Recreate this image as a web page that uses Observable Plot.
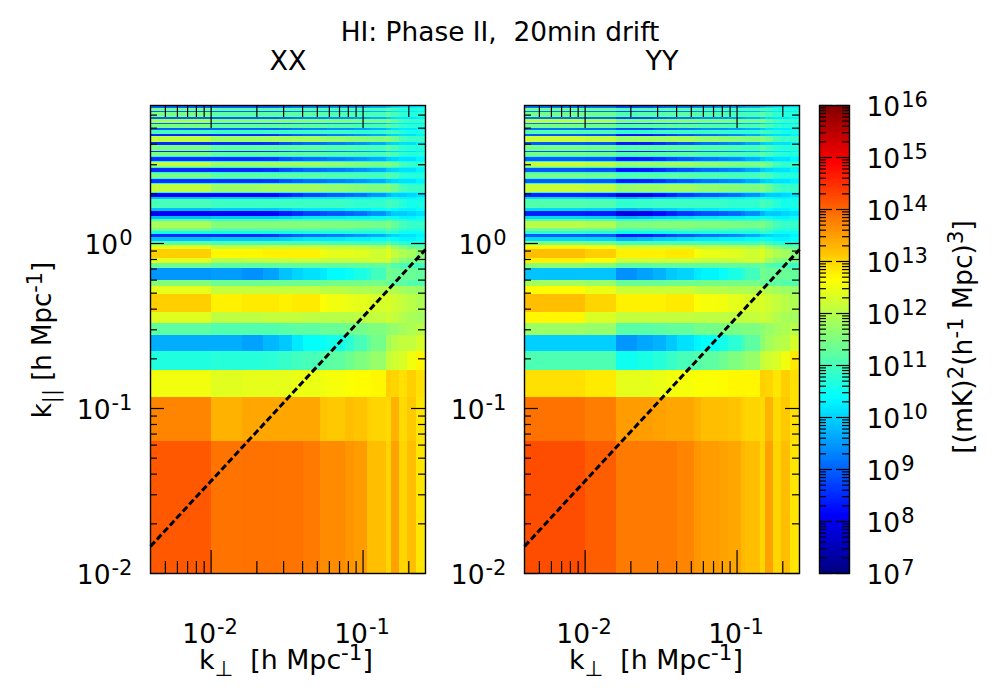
<!DOCTYPE html>
<html><head><meta charset="utf-8">
<script src="https://cdn.jsdelivr.net/npm/d3@7"></script>
<script src="https://cdn.jsdelivr.net/npm/@observablehq/plot@0.6"></script>
<style>
html,body{margin:0;padding:0;background:#fff;}
#page{position:relative;width:1000px;height:700px;overflow:hidden;font-family:"DejaVu Sans",sans-serif;color:#000;}
#page>div.plot{position:absolute;}
.lbl{position:absolute;white-space:pre;line-height:1;transform:translate(-50%,-50%);font-size:25px;}
.lbl.rot{transform:translate(-50%,-50%) rotate(-90deg);}
.sup{font-size:.8em;position:relative;top:-.42em;}
.sub{font-size:.8em;position:relative;top:.32em;}
svg{overflow:visible;}
</style></head><body><div id="page"></div>
<script>
// k-perp bin edges, h/Mpc
const kPerpEdges=[0.00399,0.0101,0.0161,0.0222,0.0283,0.0343,0.0403,0.0527,0.0583,0.0766,0.0882,0.1074,0.1136,0.1426,0.1538,0.1744,0.1968,0.2245,0.2576];
// k-parallel bin edges, h/Mpc
const kParaEdges=[0.01,0.0634,0.1166,0.1706,0.2225,0.277,0.3275,0.3833,0.4908,0.5457,0.599,0.7018,0.7595,0.8111,0.9197,0.9766,1.028,1.081,1.139,1.187,1.233,1.352,1.404,1.45,1.554,1.636,1.779,1.838,1.889,1.998,2.046,2.278,2.32,2.43,2.488,2.642,2.705,2.832,2.872,3.11,3.154,3.303,3.368,3.541,3.626,3.943,4.111,4.451,4.552,4.861,4.977,5.235,5.359,5.643,5.802,6.187,6.31,6.607,6.729,6.861];
// which profile each k-parallel bin uses, from low k to high k
const rowKinds=["a","b","c","d","e","f","g","h","i","j","k","l","m","n","o","p",
"halo","deep","cyan","green","pale","mint","halo","strong","halo","mint","mint","halo","strong","cyan","lime","cyan","deep","cyan","green","cyan","deep","cyan","lime","cyan","deep","cyan","green","deep","green","deep","lime","deep","mint","thin","green","thin","pale","thin","green","thin","green","thin","green"];

// XX: log10 power in each k-perp bin
const xxA=[14.1,13.85,13.87,13.87,13.85,13.85,13.8,13.65,13.65,13.55,13.5,13.2,13.2,13.0,13.45,13.0,13.2,12.85];
const xxB=[13.7,13.3,13.4,13.4,13.4,13.4,13.4,13.15,13.1,13.2,13.15,13.05,13.0,12.95,13.3,12.95,13.1,12.85];
const xxC=[12.5,12.35,12.4,12.4,12.4,12.45,12.45,12.5,12.55,12.6,12.65,12.65,12.7,13.05,13.0,12.9,13.05,12.9];
const xxD=[10.65,10.7,10.7,10.75,10.85,10.95,11.0,11.1,11.2,11.35,11.5,11.6,11.7,12.1,12.2,12.3,12.5,12.7];
const xxE=[9.65,9.65,9.55,9.75,9.9,10.2,10.4,10.45,10.55,10.75,11.0,11.2,11.4,11.8,12.0,12.1,12.1,12.25];
const xxF=[11.2,11.1,11.1,11.1,11.15,11.2,11.2,11.3,11.3,11.4,11.4,11.5,11.5,11.6,11.7,11.8,11.9,12.0];
const xxG=[12.35,12.05,12.05,12.1,12.1,12.1,12.05,12.0,12.0,12.0,12.05,12.05,12.1,12.2,12.1,11.95,11.85,11.8];
const xxH=[13.05,12.75,12.8,12.8,12.75,12.8,12.8,12.6,12.5,12.45,12.4,12.35,12.25,12.3,12.2,12.1,12.0,11.9];
const xxI=[12.4,12.1,12.1,12.1,12.1,12.1,12.1,12.0,12.0,11.95,11.9,11.9,11.9,12.0,11.9,11.8,11.75,11.7];
const xxJ=[11.55,11.35,11.35,11.35,11.35,11.35,11.35,11.35,11.4,11.4,11.4,11.4,11.4,11.3,11.2,11.2,11.1,11.1];
const xxK=[9.45,9.5,9.4,9.55,9.85,10.0,10.1,10.2,10.35,10.45,10.6,10.7,10.95,11.4,11.3,11.3,11.3,11.25];
const xxL=[11.3,11.15,11.15,11.15,11.2,11.2,11.2,11.2,11.2,11.2,11.2,11.2,11.2,11.3,11.1,11.0,10.95,10.9];
const xxM=[12.4,12.0,12.05,12.1,12.1,12.15,12.15,12.1,12.1,12.1,12.15,12.15,12.2,12.2,11.8,11.6,11.5,11.4];
const xxN=[13.05,12.7,12.7,12.75,12.75,12.75,12.75,12.5,12.4,12.4,12.35,12.3,12.2,12.35,12.1,11.9,11.8,11.6];
const xxO=[12.4,12.1,12.1,12.15,12.15,12.15,12.15,12.1,12.05,12.05,12.0,12.0,11.9,12.1,11.7,11.5,11.3,11.2];
const xxP=[11.1,11.0,11.0,11.0,11.0,11.0,11.0,11.0,10.95,10.95,10.9,10.9,10.9,11.1,10.9,10.7,10.6,10.6];
const xxDeep=[8.5,8.5,8.5,8.55,8.8,8.95,9.05,9.1,9.2,9.3,9.4,9.5,9.6,9.9,10.0,10.1,10.1,10.3];
const xxThin=[9.0,9.0,9.0,9.0,9.1,9.2,9.3,9.3,9.4,9.4,9.5,9.6,9.7,9.9,10.1,10.2,10.2,10.3];
const xxStrong=[8.05,8.05,8.05,8.1,8.35,8.5,8.7,8.8,8.9,9.0,9.1,9.3,9.4,9.7,9.9,9.9,10.0,10.1];
const xxHalo=[9.8,9.9,9.9,9.9,10.0,10.1,10.2,10.2,10.2,10.3,10.3,10.3,10.4,10.5,10.4,10.3,10.3,10.4];
const xxCyan=[10.5,10.5,10.5,10.5,10.5,10.55,10.55,10.6,10.6,10.6,10.6,10.6,10.6,10.8,10.7,10.45,10.4,10.45];
const xxMint=[11.0,10.9,10.9,10.9,10.9,10.9,10.9,10.9,10.9,10.85,10.8,10.8,10.8,11.0,10.9,10.7,10.55,10.6];
const xxGreen=[11.45,11.2,11.2,11.2,11.2,11.2,11.2,11.15,11.1,11.1,11.05,11.0,11.0,11.2,11.0,10.8,10.7,10.7];
const xxLime=[12.05,11.75,11.75,11.8,11.8,11.8,11.8,11.7,11.65,11.6,11.55,11.5,11.5,11.55,11.35,11.0,10.85,10.85];
const xxPale=[11.85,11.55,11.55,11.55,11.55,11.55,11.55,11.5,11.5,11.5,11.45,11.45,11.4,11.5,11.25,11.0,10.85,10.85];

// YY: log10 power in each k-perp bin
const yyA=[14.2,14.05,13.8,13.8,13.8,13.8,13.7,13.55,13.5,13.45,13.4,13.25,13.2,13.0,13.45,13.0,13.2,12.85];
const yyB=[13.87,13.77,13.5,13.5,13.45,13.4,13.4,13.3,13.2,13.2,13.15,13.05,13.0,12.95,13.3,12.95,13.1,12.9];
const yyC=[12.9,12.8,12.4,12.4,12.45,12.5,12.55,12.6,12.6,12.65,12.7,12.7,12.7,13.05,13.0,12.85,13.05,12.9];
const yyD=[11.05,11.05,10.5,10.6,10.7,10.85,11.0,11.1,11.2,11.35,11.5,11.6,11.7,12.1,12.2,12.3,12.5,12.8];
const yyE=[9.95,9.95,9.45,9.6,9.7,9.9,10.1,10.3,10.4,10.55,10.75,10.95,11.2,11.6,11.8,11.95,12.0,12.25];
const yyF=[11.75,11.7,11.15,11.15,11.2,11.25,11.25,11.4,11.4,11.45,11.45,11.5,11.5,11.6,11.7,11.8,11.9,12.0];
const yyG=[12.7,12.3,12.1,12.1,12.1,12.1,12.1,12.05,12.05,12.05,12.05,12.05,12.1,12.2,12.1,11.95,11.85,11.8];
const yyH=[13.2,13.0,12.75,12.75,12.75,12.8,12.8,12.6,12.55,12.5,12.4,12.35,12.25,12.3,12.2,12.1,12.0,11.9];
const yyI=[12.65,12.45,12.15,12.15,12.15,12.15,12.15,12.05,12.0,11.95,11.9,11.9,11.9,12.0,11.9,11.8,11.75,11.7];
const yyJ=[11.8,11.7,11.3,11.3,11.3,11.35,11.35,11.35,11.4,11.4,11.4,11.4,11.4,11.3,11.2,11.2,11.1,11.1];
const yyK=[9.85,9.85,9.4,9.55,9.7,9.9,10.0,10.2,10.3,10.45,10.6,10.7,10.95,11.4,11.3,11.3,11.3,11.25];
const yyL=[11.6,11.5,11.15,11.15,11.2,11.2,11.2,11.2,11.2,11.2,11.2,11.2,11.2,11.3,11.1,11.0,10.95,10.9];
const yyM=[12.75,12.6,12.2,12.2,12.2,12.2,12.2,12.15,12.1,12.1,12.15,12.15,12.2,12.2,11.8,11.6,11.5,11.4];
const yyN=[13.2,13.05,12.75,12.75,12.75,12.8,12.8,12.55,12.45,12.4,12.35,12.3,12.2,12.35,12.1,11.9,11.8,11.6];
const yyO=[12.7,12.55,12.2,12.2,12.2,12.2,12.2,12.1,12.05,12.05,12.0,12.0,11.9,12.1,11.7,11.5,11.3,11.2];
const yyP=[11.4,11.3,11.0,11.0,11.0,11.0,11.0,11.0,10.95,10.95,10.9,10.9,10.9,11.1,10.9,10.7,10.6,10.6];
const yyDeep=[8.9,8.85,8.3,8.35,8.5,8.7,8.85,9.0,9.1,9.2,9.3,9.4,9.6,9.9,10.0,10.1,10.1,10.3];
const yyThin=[9.15,9.1,8.8,8.85,9.0,9.1,9.2,9.3,9.4,9.4,9.5,9.6,9.7,9.9,10.1,10.2,10.2,10.3];
const yyStrong=[8.4,8.35,7.85,7.95,8.2,8.4,8.6,8.75,8.85,8.95,9.05,9.2,9.35,9.7,9.9,9.9,10.0,10.1];
const yyHalo=[10.05,10.0,9.7,9.8,9.95,10.0,10.1,10.2,10.2,10.3,10.3,10.3,10.4,10.5,10.4,10.3,10.3,10.4];
const yyCyan=[10.7,10.65,10.4,10.45,10.45,10.5,10.55,10.6,10.6,10.6,10.6,10.6,10.6,10.8,10.7,10.45,10.4,10.45];
const yyMint=[11.1,11.05,10.8,10.85,10.9,10.9,10.9,10.9,10.9,10.85,10.8,10.8,10.8,11.0,10.9,10.7,10.55,10.6];
const yyGreen=[11.4,11.35,11.1,11.15,11.15,11.2,11.2,11.15,11.1,11.1,11.05,11.0,11.0,11.2,11.0,10.8,10.7,10.7];
const yyLime=[12.15,12.05,11.7,11.75,11.75,11.8,11.8,11.7,11.65,11.6,11.55,11.5,11.5,11.55,11.35,11.0,10.85,10.85];
const yyPale=[12.0,11.9,11.5,11.5,11.55,11.55,11.55,11.5,11.5,11.5,11.45,11.45,11.4,11.5,11.25,11.0,10.85,10.85];

// foreground wedge line
const wedgeKPerp=[0.00399,0.2576];
const wedgeKPara=[0.0146,0.92];
// axes
const xMajor=[0.01,0.1];
const xMinor=[0.005,0.006,0.007,0.008,0.009,0.02,0.03,0.04,0.05,0.06,0.07,0.08,0.09,0.2];
const xTickText=["10^-2","10^-1"];
const yMajor=[0.01,0.1,1];
const yMinor=[0.02,0.03,0.04,0.05,0.06,0.07,0.08,0.09,0.2,0.3,0.4,0.5,0.6,0.7,0.8,0.9,2,3,4,5,6];
const yTickText=["10^-2","10^-1","10^0"];
const barExponents=[7,8,9,10,11,12,13,14,15,16];
const barMinorDigits=[2,3,4,5,6,7,8,9];

const xxTable={a:xxA,b:xxB,c:xxC,d:xxD,e:xxE,f:xxF,g:xxG,h:xxH,i:xxI,j:xxJ,k:xxK,l:xxL,m:xxM,n:xxN,o:xxO,p:xxP,deep:xxDeep,thin:xxThin,strong:xxStrong,halo:xxHalo,cyan:xxCyan,mint:xxMint,green:xxGreen,lime:xxLime,pale:xxPale};
const yyTable={a:yyA,b:yyB,c:yyC,d:yyD,e:yyE,f:yyF,g:yyG,h:yyH,i:yyI,j:yyJ,k:yyK,l:yyL,m:yyM,n:yyN,o:yyO,p:yyP,deep:yyDeep,thin:yyThin,strong:yyStrong,halo:yyHalo,cyan:yyCyan,mint:yyMint,green:yyGreen,lime:yyLime,pale:yyPale};

const clamp=v=>Math.max(0,Math.min(1,v));
const jet=t=>{const r=clamp(Math.min(4*t-1.5,-4*t+4.5)),g=clamp(Math.min(4*t-.5,-4*t+3.5)),b=clamp(Math.min(4*t+.5,-4*t+2.5));
  return `rgb(${Math.round(r*255)},${Math.round(g*255)},${Math.round(b*255)})`;};
const colorOpt={type:"log",domain:[1e7,1e16],interpolate:jet,clamp:true};
const font='"DejaVu Sans",sans-serif';
const page=document.getElementById("page");

function powerText(svg){
  svg.querySelectorAll("text").forEach(t=>{
    const s=t.textContent; if(!s.includes("^")) return;
    const [b,e]=s.split("^"); t.textContent="";
    const a=document.createElementNS("http://www.w3.org/2000/svg","tspan"); a.textContent=b; t.appendChild(a);
    const c=document.createElementNS("http://www.w3.org/2000/svg","tspan"); c.textContent=e;
    c.setAttribute("font-size","21"); c.setAttribute("dy","-9"); c.setAttribute("dx","1"); t.appendChild(c);
  });
}
function place(svg,left){
  const d=document.createElement("div"); d.className="plot"; d.style.left=left+"px"; d.style.top="0"; d.appendChild(svg); page.appendChild(d);
}
function panel(table,x0){
  const cells=[];
  rowKinds.forEach((kind,r)=>table[kind].forEach((v,c)=>cells.push({x1:kPerpEdges[c],x2:kPerpEdges[c+1],y1:kParaEdges[r],y2:kParaEdges[r+1],v:Math.pow(10,v)})));
  const mL=110,mT=105,W=275,H=468,mB=95;
  const wedge=wedgeKPerp.map((k,i)=>({x:k,y:wedgeKPara[i]}));
  const svg=Plot.plot({
    width:mL+W+5,height:mT+H+mB,marginLeft:mL,marginRight:5,marginTop:mT,marginBottom:mB,
    style:{fontFamily:font,background:"transparent",overflow:"visible"},
    x:{type:"log",domain:[0.00399,0.2576],axis:null},
    y:{type:"log",domain:[0.01,6.861],axis:null},
    color:colorOpt,
    marks:[
      Plot.rect(cells,{x1:"x1",x2:"x2",y1:"y1",y2:"y2",fill:"v",shapeRendering:"crispEdges"}),
      Plot.line(wedge,{x:"x",y:"y",stroke:"#000",strokeWidth:3,strokeDasharray:"6.5,3",strokeLinecap:"butt"}),
      Plot.tickX(xMinor,{x:d=>d,insetTop:H-12,stroke:"#000",strokeWidth:1.2}),
      Plot.tickX(xMinor,{x:d=>d,insetBottom:H-12,stroke:"#000",strokeWidth:1.2}),
      Plot.tickX(xMajor,{x:d=>d,insetTop:H-23,stroke:"#000",strokeWidth:1.2}),
      Plot.tickX(xMajor,{x:d=>d,insetBottom:H-23,stroke:"#000",strokeWidth:1.2}),
      Plot.tickY(yMinor,{y:d=>d,insetRight:W-7,stroke:"#000",strokeWidth:1.2}),
      Plot.tickY(yMinor,{y:d=>d,insetLeft:W-7,stroke:"#000",strokeWidth:1.2}),
      Plot.tickY(yMajor,{y:d=>d,insetRight:W-14,stroke:"#000",strokeWidth:1.2}),
      Plot.tickY(yMajor,{y:d=>d,insetLeft:W-14,stroke:"#000",strokeWidth:1.2}),
      Plot.frame({stroke:"#000",strokeWidth:1.4}),
      Plot.text(yMajor,{x:0.00399,y:d=>d,text:(d,i)=>yTickText[i],textAnchor:"end",dx:-18,dy:1.7,fontSize:26.5,fill:"#000"}),
      Plot.text(xMajor,{x:d=>d,y:0.01,text:(d,i)=>xTickText[i],textAnchor:"middle",dy:61,dx:-1,fontSize:26.5,fill:"#000"})
    ]
  });
  powerText(svg);
  place(svg,x0-mL);
}
function colorbar(){
  const levels=d3.range(0,360).map(i=>({a:Math.pow(10,7+i/40),b:Math.pow(10,7+(i+1)/40)}));
  const minors=barExponents.slice(0,-1).flatMap(e=>barMinorDigits.map(d=>d*Math.pow(10,e)));
  const majors=barExponents.map(e=>Math.pow(10,e));
  const W=30,H=468,mT=105,mB=20,mR=140;
  const svg=Plot.plot({
    width:W+mR+1,height:mT+H+mB,marginLeft:1,marginRight:mR,marginTop:mT,marginBottom:mB,
    style:{fontFamily:font,background:"transparent",overflow:"visible"},
    x:{domain:[0,1],axis:null},
    y:{type:"log",domain:[1e7,1e16],axis:null},
    color:colorOpt,
    marks:[
      Plot.rect(levels,{x1:0,x2:1,y1:"a",y2:"b",fill:"a",shapeRendering:"crispEdges"}),
      Plot.tickY(minors,{y:d=>d,insetRight:W-7,stroke:"#000",strokeWidth:1.2}),
      Plot.tickY(minors,{y:d=>d,insetLeft:W-7,stroke:"#000",strokeWidth:1.2}),
      Plot.tickY(majors,{y:d=>d,insetRight:W-13,stroke:"#000",strokeWidth:1.2}),
      Plot.tickY(majors,{y:d=>d,insetLeft:W-13,stroke:"#000",strokeWidth:1.2}),
      Plot.frame({stroke:"#000",strokeWidth:1.4}),
      Plot.text(barExponents,{x:1,y:e=>Math.pow(10,e),text:e=>"10^"+e,textAnchor:"start",dx:17,dy:1.7,fontSize:26.5,fill:"#000"})
    ]
  });
  powerText(svg);
  place(svg,819-1);
}
panel(xxTable,150);
panel(yyTable,524);
colorbar();

function label(html,x,y,size,rot){
  const d=document.createElement("div"); d.className="lbl"+(rot?" rot":""); d.innerHTML=html;
  d.style.left=x+"px"; d.style.top=y+"px"; if(size) d.style.fontSize=size+"px"; page.appendChild(d);
}
const sup=s=>`<span class="sup">${s}</span>`, sub=s=>`<span class="sub">${s}</span>`;
label("HI: Phase II,  20min drift",500,32,26.4);
label("XX",288,60,27);
label("YY",662,60,27);
label(`k${sub("⊥")}  [h Mpc${sup("-1")}]`,286,660,26.8);
label(`k${sub("⊥")}  [h Mpc${sup("-1")}]`,656,660,26.8);
label(`k${sub("||")} [h Mpc${sup("-1")}]`,42,340,26,true);
label(`[(mK)${sup("2")}(h${sup("-1")} Mpc)${sup("3")}]`,963,337,26.6,true);
</script></body></html>
